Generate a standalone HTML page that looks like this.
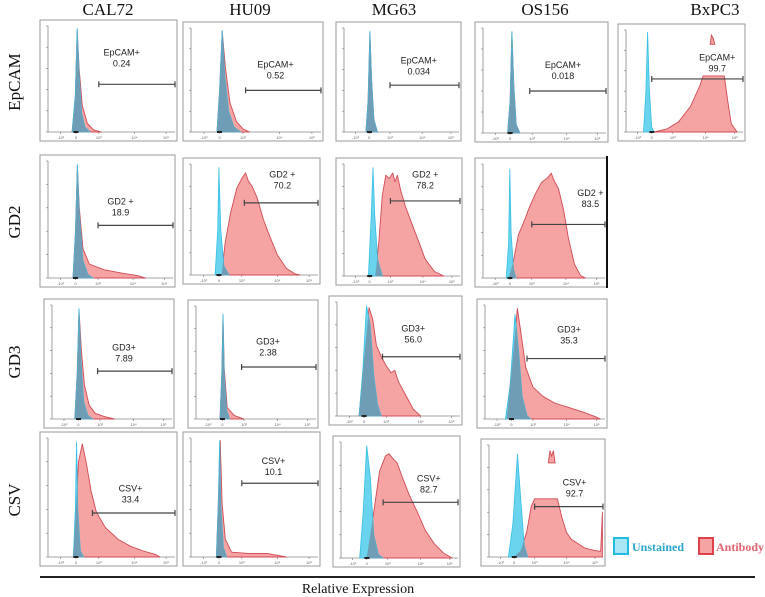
<!DOCTYPE html>
<html><head><meta charset="utf-8">
<style>
html,body{margin:0;padding:0;background:#fff;}
body{width:765px;height:597px;overflow:hidden;position:relative;font-family:"Liberation Serif",serif;}
svg{position:absolute;left:0;top:0;}
</style></head>
<body>
<svg id="fig" width="765" height="597" viewBox="0 0 765 597">
  <defs id="defs"></defs>
  <g id="headers" font-family="Liberation Serif, serif" font-size="17" fill="#111" text-anchor="middle">
    <text x="108" y="15">CAL72</text>
    <text x="250" y="15">HU09</text>
    <text x="394" y="15">MG63</text>
    <text x="545" y="15">OS156</text>
    <text x="715" y="15">BxPC3</text>
    <text transform="translate(20,82) rotate(-90)">EpCAM</text>
    <text transform="translate(20,222) rotate(-90)">GD2</text>
    <text transform="translate(20,362) rotate(-90)">GD3</text>
    <text transform="translate(20,500) rotate(-90)">CSV</text>
  </g>
  <g id="panels"></g>
  <line x1="40" y1="577" x2="755" y2="577" stroke="#222" stroke-width="2"/>
  <text x="358" y="593" font-size="14" text-anchor="middle" fill="#111">Relative Expression</text>
  <g>
    <rect x="614" y="538" width="14" height="16" fill="#a8e6f4" stroke="#20bde0" stroke-width="2"/>
    <text x="632" y="551" font-size="12" font-weight="bold" fill="#2aa5cc">Unstained</text>
    <rect x="699" y="538" width="14" height="16" fill="#f5a3a3" stroke="#e0404a" stroke-width="2"/>
    <text x="716" y="551" font-size="12" font-weight="bold" fill="#e06470">Antibody</text>
  </g>
</svg>
<script>
const panelNames = ["cal72-epcam","hu09-epcam","mg63-epcam","os156-epcam","bxpc3-epcam",
 "cal72-gd2","hu09-gd2","mg63-gd2","os156-gd2",
 "cal72-gd3","hu09-gd3","mg63-gd3","os156-gd3",
 "cal72-csv","hu09-csv","mg63-csv","os156-csv"];
const gateLabels = ["EpCAM+","EpCAM+","EpCAM+","EpCAM+","EpCAM+","GD2 +","GD2 +","GD2 +","GD2 +","GD3+","GD3+","GD3+","GD3+","CSV+","CSV+","CSV+","CSV+"];
const gateValues = ["0.24","0.52","0.034","0.018","99.7","18.9","70.2","78.2","83.5","7.89","2.38","56.0","35.3","33.4","10.1","82.7","92.7"];
const gates = [[40,100,45],[42,100,40],[40,100,45],[38,100,40],[22,100,52],
 [40,100,45],[42,100,65],[40,100,67],[40,100,47],
 [38,100,42],[38,100,46],[37,100,52],[35,100,53],
 [35,100,37],[40,100,62],[36,100,48],[40,100,45]];
const labelPos = [[58,72],[65,62],[65,66],[65,62],[78,70],
 [58,63],[72,88],[70,88],[88,72],
 [60,60],[60,66],[62,74],[70,76],
 [65,55],[65,78],[75,66],[75,64]];
const unstained = [
 [[19,0],[21.5,35],[23,98],[24.5,55],[26.5,18],[29,5],[33,0]],
 [[20,0],[22,40],[24,98],[26,55],[29,20],[33,5],[38,0]],
 [[19,0],[21,30],[22.5,97],[24,50],[26,12],[29,0]],
 [[20,0],[22,30],[23.5,97],[25,45],[27,8],[30,0]],
 [[15,0],[17,40],[18.5,98],[20,40],[22,5],[24,0]],
 [[20,0],[22,40],[23.5,97],[25,55],[28,15],[32,3],[36,0]],
 [[19,0],[21,40],[22,97],[23.5,40],[26,8],[30,0]],
 [[21,0],[23.5,55],[25,97],[26.5,55],[29,15],[33,0]],
 [[19,0],[21,30],[22,96],[23,40],[25,8],[27,0]],
 [[19,0],[21,40],[22.5,97],[24,55],[26.5,15],[30,3],[34,0]],
 [[20,0],[21.5,40],[22.5,93],[23.5,40],[25.5,8],[28,0]],
 [[18,0],[21,40],[24,97],[27,80],[30,35],[33,10],[36,0]],
 [[17,0],[21,30],[25,92],[28,60],[31,20],[35,3],[38,0]],
 [[20,0],[21.5,40],[22.5,97],[23.5,40],[25.5,5],[28,0]],
 [[20,0],[21.5,45],[22.5,98],[23.5,45],[25.5,8],[28,0]],
 [[16,0],[19,40],[22,97],[25,70],[28,20],[32,3],[36,0]],
 [[17,0],[21,30],[25,92],[28,50],[31,10],[34,0]]
];
const antibody = [
 [[19,0],[21.5,33],[23,96],[24.5,60],[27,25],[31,8],[36,2],[42,0]],
 [[20,0],[22,40],[24,97],[26.5,62],[30,28],[35,10],[40,3],[45,0]],
 [[19,0],[21,30],[22.5,96],[24,50],[26,12],[29,0]],
 [[20,0],[22,30],[23.5,96],[25,45],[27,8],[30,0]],
 [[24,0],[35,3],[45,10],[55,25],[63,45],[66,55],[84,55],[87,30],[90,8],[95,0]],
 [[20,0],[22,40],[23.5,96],[25,60],[28,25],[33,12],[45,7],[60,4],[72,2],[78,0]],
 [[24,0],[27,30],[31,55],[36,78],[40,87],[43,92],[45,85],[48,80],[52,70],[57,50],[62,35],[68,18],[75,6],[82,1],[86,0]],
 [[27,0],[30,30],[33,72],[36,90],[39,87],[42,92],[44,84],[46,90],[49,76],[53,62],[58,48],[64,32],[70,15],[78,4],[86,0]],
 [[21,0],[25,15],[29,38],[33,48],[38,62],[43,74],[48,84],[53,88],[56,92],[58,86],[62,78],[66,60],[70,35],[75,12],[80,2],[84,0]],
 [[19,0],[21,40],[22.5,96],[24.5,60],[27,30],[31,12],[36,5],[44,2],[52,0]],
 [[20,0],[21.5,40],[22.5,92],[23.5,45],[26,10],[32,3],[40,0]],
 [[18,0],[22,50],[26,95],[29,85],[32,62],[36,52],[40,44],[44,38],[47,40],[50,30],[56,18],[62,6],[68,0]],
 [[18,0],[22,40],[27,97],[30,75],[34,45],[40,28],[48,20],[58,14],[70,10],[82,6],[92,2],[96,0]],
 [[20,0],[22,40],[24,80],[27,95],[30,80],[34,55],[38,38],[45,25],[55,15],[65,9],[75,5],[85,2],[88,0]],
 [[20,0],[21.5,45],[23,98],[24.5,45],[27,15],[32,4],[45,3],[60,3],[70,1],[75,0]],
 [[22,0],[28,40],[33,75],[38,88],[41,90],[44,86],[48,82],[53,68],[58,55],[65,40],[72,24],[80,12],[88,4],[95,0]],
 [[22,0],[28,6],[33,22],[37,45],[40,52],[60,52],[64,35],[68,22],[72,16],[78,12],[84,8],[92,6],[98,5],[99.5,40],[99.5,0]]
];
const topPieces = {4:[[72,86],[73,95],[74.5,92],[76,86]], 16:[[52,84],[53.5,95],[55,90],[56.5,95],[58,84]]};
const boxes = [[40,20,177,141],[183,22,323,141],[336,22,461,141],[475,22,608,142],[618,24,745,141],
 [40,155,175,287],[183,158,320,284],[336,158,462,285],[475,158,607,287],
 [44,299,174,428],[188,300,318,428],[329,296,462,425],[477,299,607,428],
 [40,432,177,566],[183,432,320,566],[333,436,460,567],[481,439,605,566]];

const NS="http://www.w3.org/2000/svg";
const root=document.getElementById('panels');
const defs=document.getElementById('defs');
function mk(tag,attrs,parent){const e=document.createElementNS(NS,tag);for(const k in attrs)e.setAttribute(k,attrs[k]);parent.appendChild(e);return e;}
const tickFr=[10,22,40,68,93];
const tickTx=["-10²","0","10³","10⁴","10⁵"];

boxes.forEach((b,i)=>{
  const [x0,y0,x1,y1]=b;
  const px0=x0+8, px1=x1-2, py0=y0+6, py1=y1-9;
  const sx=v=>px0+(px1-px0)*v/100;
  const sy=v=>py1-(py1-py0)*v/100;
  const g=mk('g',{},root);
  
  
  const fr=mk('rect',{x:x0,y:y0,width:x1-x0,height:y1-y0,fill:'#fff',stroke:'#9a9a9a','stroke-width':1},g);
  
  
  mk('line',{x1:px0,y1:py1,x2:px1,y2:py1,stroke:'#888','stroke-width':0.8},g);
  mk('line',{x1:px0,y1:py0,x2:px0,y2:py1,stroke:'#888','stroke-width':0.8},g);
  tickFr.forEach((t,k)=>{
    mk('line',{x1:sx(t),y1:py1,x2:sx(t),y2:py1+2,stroke:'#777','stroke-width':0.6},g);
    const tx=mk('text',{x:sx(t),y:py1+7,'font-size':4,'text-anchor':'middle',fill:'#666','font-family':'Liberation Sans, sans-serif'},g);
    tx.textContent=tickTx[k];
  });
  [0,20,40,60,80,100].forEach(v=>{
    mk('line',{x1:px0-2,y1:sy(v),x2:px0,y2:sy(v),stroke:'#777','stroke-width':0.6},g);
  });
  const path=arr=>{
    const pts=arr.map(p=>sx(p[0]).toFixed(1)+','+sy(p[1]).toFixed(1));
    return 'M'+sx(arr[0][0]).toFixed(1)+','+sy(0).toFixed(1)+' L'+pts.join(' L')+' L'+sx(arr[arr.length-1][0]).toFixed(1)+','+sy(0).toFixed(1)+' Z';
  };
  const shape=arr=>'M'+arr.map(p=>sx(p[0]).toFixed(1)+','+sy(p[1]).toFixed(1)).join(' L')+' Z';
  const ab=mk('path',{d:path(antibody[i]),fill:'#f5a3a3',stroke:'#cf4a55','stroke-width':0.9,'stroke-linejoin':'round'},g);
  
  
  if(topPieces[i]){
    const tp=mk('path',{d:shape(topPieces[i]),fill:'#f5a3a3',stroke:'#cf4a55','stroke-width':0.9},g);
    
    
  }
  const un=mk('path',{d:path(unstained[i]),fill:'#6ad4ee',stroke:'#35c0e4','stroke-width':0.8},g);
  
  
  const cp=mk('clipPath',{id:'clip'+i},defs);
  mk('path',{d:path(unstained[i])},cp);
  const ov=mk('path',{d:path(antibody[i]),fill:'#6e9db5','clip-path':'url(#clip'+i+')'},g);
  
  
  mk('rect',{x:sx(20),y:py1-1,width:5,height:2,fill:'#222'},g);
  const [ga,gb,gy]=gates[i];
  const gl=mk('g',{stroke:'#444','stroke-width':1.2},g);
  
  
  const xe=Math.min(sx(gb),x1-1);
  mk('line',{x1:sx(ga),y1:sy(gy),x2:xe,y2:sy(gy)},gl);
  mk('line',{x1:sx(ga),y1:sy(gy)-3,x2:sx(ga),y2:sy(gy)+3},gl);
  mk('line',{x1:xe,y1:sy(gy)-3,x2:xe,y2:sy(gy)+3},gl);
  const [lx,ly]=labelPos[i];
  const t1=mk('text',{x:sx(lx),y:sy(ly),'font-size':9,'text-anchor':'middle',fill:'#222','font-family':'Liberation Sans, sans-serif'},g);
  t1.textContent=gateLabels[i];
  
  
  const t2=mk('text',{x:sx(lx),y:sy(ly)+11,'font-size':9,'text-anchor':'middle',fill:'#222','font-family':'Liberation Sans, sans-serif'},g);
  t2.textContent=gateValues[i];
  
  
});
const rb=mk('line',{x1:607,y1:156,x2:607,y2:288,stroke:'#111','stroke-width':2},root);


</script>
</body></html>
